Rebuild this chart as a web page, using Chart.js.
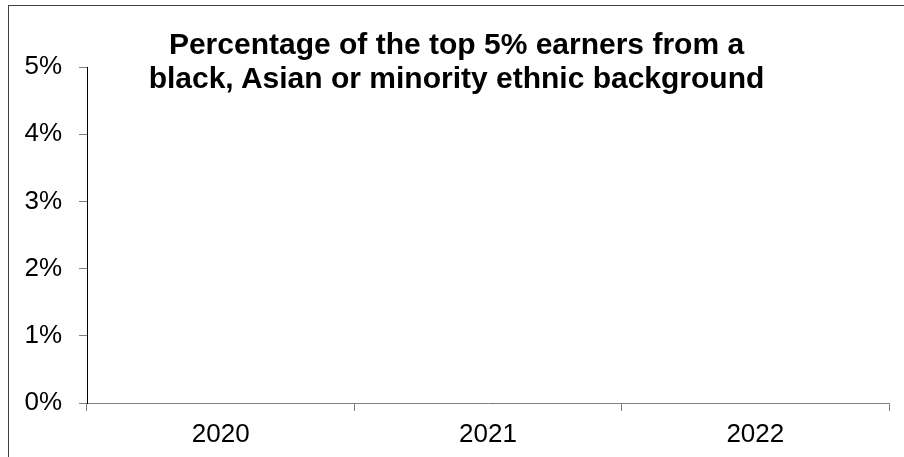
<!DOCTYPE html>
<html>
<head>
<meta charset="utf-8">
<script src="https://cdn.jsdelivr.net/npm/chart.js@4"></script>
<style>
  body { margin: 0; background: #fff; }
  #wrap { position: relative; width: 904px; height: 457px; overflow: hidden; }
  #frame { position: absolute; left: 8px; top: 5px; width: 1000px; height: 1000px;
           border-top: 1px solid #404040; border-left: 1px solid #404040; pointer-events: none; }
  #title { position: absolute; left: 0; top: 27px; width: 913px; text-align: center;
           font: bold 30px "Liberation Sans", Arial, sans-serif; line-height: 34px; color: #000; }
</style>
</head>
<body>
<div id="wrap">
  <canvas id="myChart" width="904" height="457"></canvas>
  <div id="frame"></div>
  <div id="title">Percentage of the top 5% earners from a<br>black, Asian or minority ethnic background</div>
</div>
<script>
// years on the x axis, no values plotted in the source
const years = ['2020', '2021', '2022'];
const shareValues = [null, null, null];
const yTicks = [0, 0.01, 0.02, 0.03, 0.04, 0.05];

const ctx = document.getElementById('myChart').getContext('2d');
const myChart = new Chart(ctx, {
  type: 'bar',
  data: {
    labels: years,
    datasets: [{
      label: 'Share of top 5% earners',
      data: shareValues,
      backgroundColor: '#4f81bd'
    }]
  },
  options: {
    responsive: false,
    animation: false,
    layout: { padding: { left: 0, top: 67, right: 15, bottom: 0 } },
    plugins: { legend: { display: false }, tooltip: { enabled: false } },
    scales: {
      x: {
        grid: { drawOnChartArea: false, drawTicks: true, tickLength: 8, color: '#808080', offset: true },
        border: { display: true, color: '#808080', width: 1 },
        ticks: { color: '#000', padding: 8, font: { family: 'Liberation Sans', size: 26 } },
        afterFit: (scale) => { scale.height = 54; }
      },
      y: {
        min: 0,
        max: 0.05,
        afterBuildTicks: (scale) => { scale.ticks = yTicks.map(v => ({ value: v })); },
        grid: { drawOnChartArea: false, drawTicks: true, tickLength: 8, color: '#808080' },
        border: { display: true, color: '#000', width: 1 },
        ticks: {
          color: '#000',
          padding: 17,
          font: { family: 'Liberation Sans', size: 26 },
          callback: (v) => Math.round(v * 100) + '%'
        },
        afterFit: (scale) => { scale.width = 87; }
      }
    }
  }
});
</script>
</body>
</html>
